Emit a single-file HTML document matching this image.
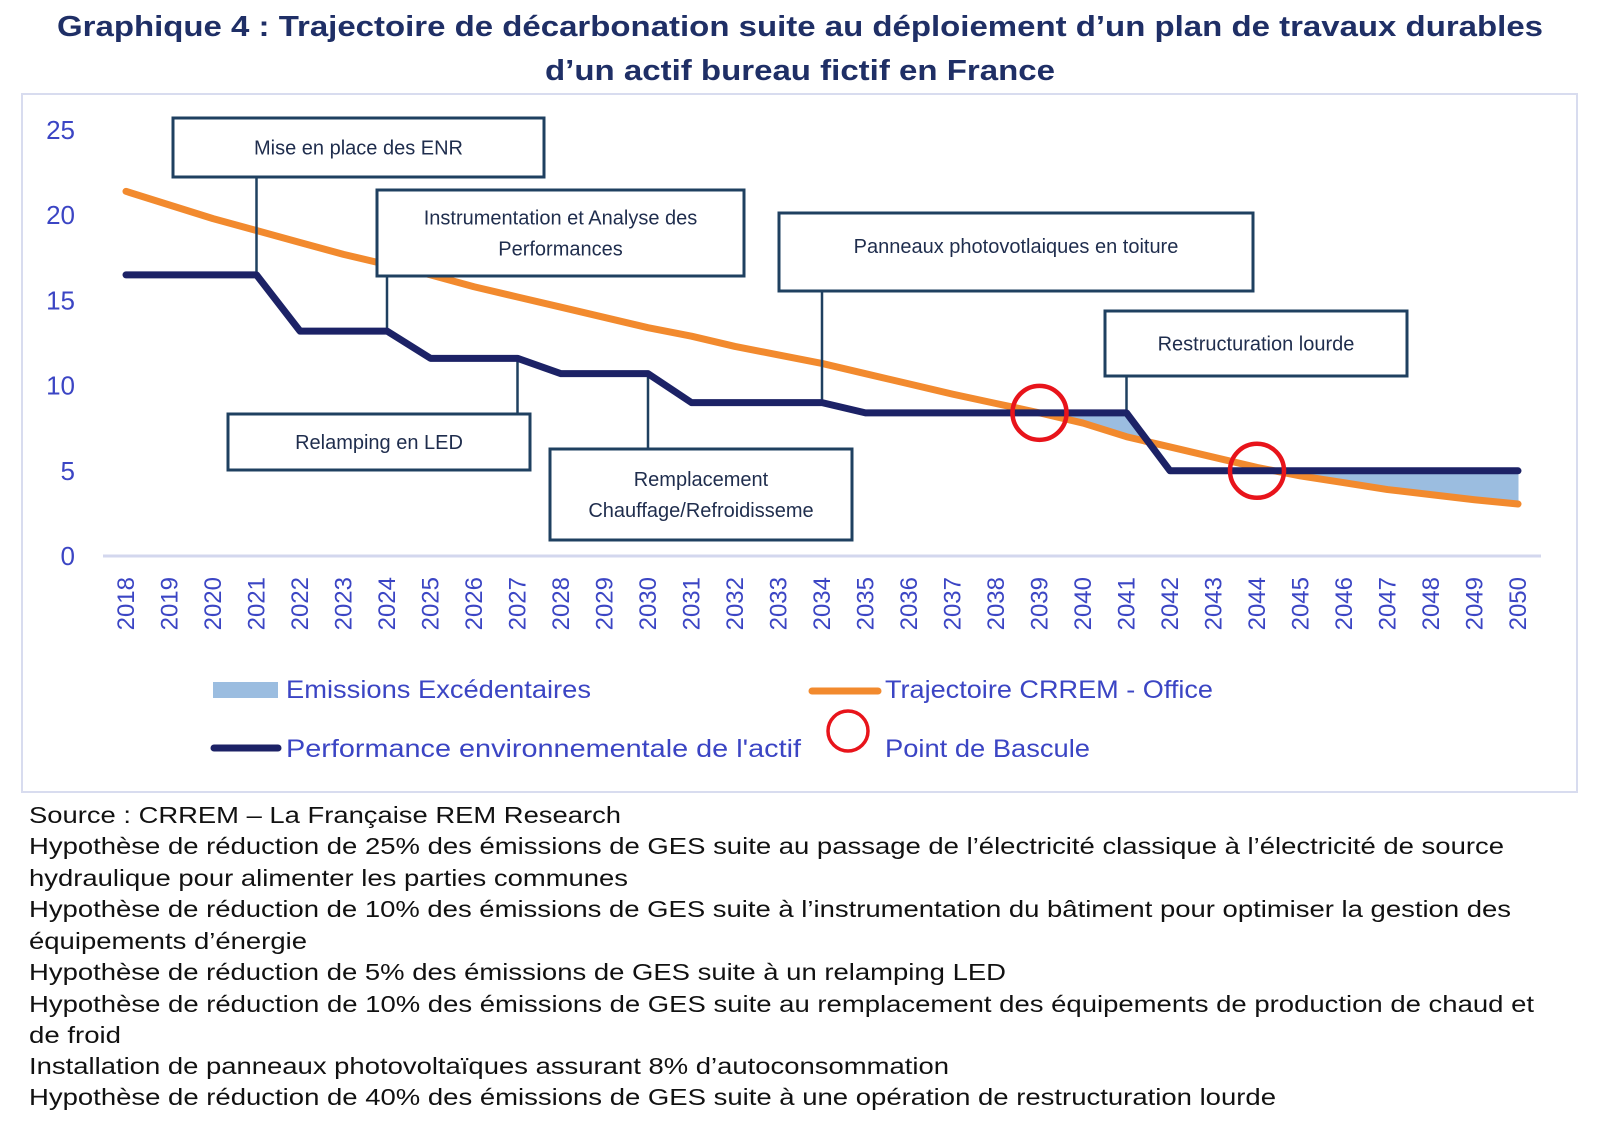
<!DOCTYPE html>
<html><head><meta charset="utf-8"><style>
html,body{margin:0;padding:0;background:#fff;}
svg{display:block;}
</style></head><body>
<svg id="chart" width="1600" height="1126" viewBox="0 0 1600 1126" xmlns="http://www.w3.org/2000/svg" font-family="'Liberation Sans', sans-serif">
<g fill="#1f2f66" font-weight="bold" font-size="29" text-anchor="middle">
<text x="800" y="36" textLength="1486" lengthAdjust="spacingAndGlyphs">Graphique 4 : Trajectoire de décarbonation suite au déploiement d’un plan de travaux durables</text>
<text x="800" y="80" textLength="510" lengthAdjust="spacingAndGlyphs">d’un actif bureau fictif en France</text>
</g>
<rect x="22" y="94" width="1555" height="698" fill="#fff" stroke="#d8dcef" stroke-width="2"/>
<g id="plot"></g>
<g font-size="25" fill="#3b45c4">
<rect x="213" y="682" width="65" height="16" fill="#9bbde0"/>
<text x="286" y="698" textLength="305" lengthAdjust="spacingAndGlyphs">Emissions Excédentaires</text>
<line x1="812" y1="691" x2="878" y2="691" stroke="#f28a2e" stroke-width="7" stroke-linecap="round"/>
<text x="885" y="698" textLength="328" lengthAdjust="spacingAndGlyphs">Trajectoire CRREM - Office</text>
<line x1="214" y1="748" x2="278" y2="748" stroke="#1c2266" stroke-width="7" stroke-linecap="round"/>
<text x="286" y="757" textLength="515" lengthAdjust="spacingAndGlyphs">Performance environnementale de l'actif</text>
<ellipse cx="848" cy="731" rx="20" ry="20" fill="none" stroke="#e8141b" stroke-width="3.5"/>
<text x="885" y="757" textLength="205" lengthAdjust="spacingAndGlyphs">Point de Bascule</text>
</g>
<g font-size="23" fill="#111">
<text x="29" y="823" textLength="592" lengthAdjust="spacingAndGlyphs">Source : CRREM – La Française REM Research</text>
<text x="29" y="854" textLength="1475" lengthAdjust="spacingAndGlyphs">Hypothèse de réduction de 25% des émissions de GES suite au passage de l’électricité classique à l’électricité de source</text>
<text x="29" y="886" textLength="599" lengthAdjust="spacingAndGlyphs">hydraulique pour alimenter les parties communes</text>
<text x="29" y="917" textLength="1482" lengthAdjust="spacingAndGlyphs">Hypothèse de réduction de 10% des émissions de GES suite à l’instrumentation du bâtiment pour optimiser la gestion des</text>
<text x="29" y="949" textLength="278" lengthAdjust="spacingAndGlyphs">équipements d’énergie</text>
<text x="29" y="980" textLength="977" lengthAdjust="spacingAndGlyphs">Hypothèse de réduction de 5% des émissions de GES suite à un relamping LED</text>
<text x="29" y="1012" textLength="1505" lengthAdjust="spacingAndGlyphs">Hypothèse de réduction de 10% des émissions de GES suite au remplacement des équipements de production de chaud et</text>
<text x="29" y="1043" textLength="92" lengthAdjust="spacingAndGlyphs">de froid</text>
<text x="29" y="1074" textLength="920" lengthAdjust="spacingAndGlyphs">Installation de panneaux photovoltaïques assurant 8% d’autoconsommation</text>
<text x="29" y="1105" textLength="1247" lengthAdjust="spacingAndGlyphs">Hypothèse de réduction de 40% des émissions de GES suite à une opération de restructuration lourde</text>
</g>
</svg>
<script>
const years = [2018,2019,2020,2021,2022,2023,2024,2025,2026,2027,2028,2029,2030,2031,2032,2033,2034,2035,2036,2037,2038,2039,2040,2041,2042,2043,2044,2045,2046,2047,2048,2049,2050];
const crremValues = [21.4,20.6,19.8,19.1,18.4,17.7,17.1,16.5,15.8,15.2,14.6,14.0,13.4,12.9,12.3,11.8,11.3,10.7,10.1,9.5,8.95,8.4,7.8,7.0,6.4,5.8,5.2,4.7,4.3,3.9,3.6,3.3,3.05];
const performanceValues = [16.5,16.5,16.5,16.5,13.2,13.2,13.2,11.6,11.6,11.6,10.7,10.7,10.7,9.0,9.0,9.0,9.0,8.4,8.4,8.4,8.4,8.4,8.4,8.4,5.0,5.0,5.0,5.0,5.0,5.0,5.0,5.0,5.0];
const yTicks = [0,5,10,15,20,25];
const tippingYears = [2039,2044];
const tippingValues = [8.4,5.0];
const annotationLabels = [["Mise en place des ENR"],["Instrumentation et Analyse des","Performances"],["Relamping en LED"],["Remplacement","Chauffage/Refroidisseme"],["Panneaux photovotlaiques en toiture"],["Restructuration lourde"]];
const annotationYears = [2021,2024,2027,2030,2034,2041];

const NS="http://www.w3.org/2000/svg";
const plot=document.getElementById('plot');
const X0=126, X1=1518, Y0=556, YPX=17.04;
const x=y=>X0+(y-years[0])*(X1-X0)/(years[years.length-1]-years[0]);
const yv=v=>Y0-v*YPX;
function mk(tag,attrs,parent){const e=document.createElementNS(NS,tag);for(const k in attrs)e.setAttribute(k,attrs[k]);(parent||plot).appendChild(e);return e;}

yTicks.forEach(t=>{
  const e=mk('text',{x:75,y:yv(t)+9,'text-anchor':'end','font-size':26,fill:'#3b45c4'});
  
  
  e.textContent=t;
});
const ax=mk('line',{x1:103,y1:Y0,x2:1541,y2:Y0,stroke:'#d3d7ee','stroke-width':3});


years.forEach(yr=>{
  const e=mk('text',{x:0,y:0,'text-anchor':'end','font-size':24,fill:'#3b45c4',transform:`translate(${x(yr)+8},577) rotate(-90)`});
  
  
  e.textContent=yr;
});
(function(){
  let d='';
  for(let i=0;i<years.length-1;i++){
    const a0=performanceValues[i]-crremValues[i], a1=performanceValues[i+1]-crremValues[i+1];
    if(a0<=0&&a1<=0) continue;
    let ts=0,te=1;
    if(a0<0) ts=a0/(a0-a1);
    if(a1<0) te=a0/(a0-a1);
    const P=(t,arr)=>arr[i]+(arr[i+1]-arr[i])*t;
    const xs=t=>x(years[i])+t*(x(years[i+1])-x(years[i]));
    d+=`M${xs(ts)},${yv(P(ts,performanceValues))}L${xs(te)},${yv(P(te,performanceValues))}L${xs(te)},${yv(P(te,crremValues))}L${xs(ts)},${yv(P(ts,crremValues))}Z`;
  }
  const e=mk('path',{d:d,fill:'#9bbde0',stroke:'#9bbde0','stroke-width':1});
  
  
})();
const cr=mk('polyline',{points:years.map((yr,i)=>x(yr)+','+yv(crremValues[i])).join(' '),fill:'none',stroke:'#f28a2e','stroke-width':7,'stroke-linecap':'round','stroke-linejoin':'round'});


const boxes=[[173,118,371,59],[377,190,367,86],[228,414,302,56],[550,449,302,91],[779,213,474,78],[1105,311,302,65]];
annotationLabels.forEach((lab,i)=>{
  const b=boxes[i], yr=annotationYears[i], cx=x(yr), py=yv(performanceValues[years.indexOf(yr)]);
  const above=b[1]+b[3]<py;
  const ln=mk('line',{x1:cx,y1:above?b[1]+b[3]:b[1],x2:cx,y2:py,stroke:'#1f4060','stroke-width':2.5});
  
  
  const r=mk('rect',{x:b[0],y:b[1],width:b[2],height:b[3],fill:'#fff',stroke:'#1f4060','stroke-width':3});
  
  
  const yc=i===4?b[1]+33:b[1]+b[3]/2;
  lab.forEach((t,j)=>{
    const e=mk('text',{x:b[0]+b[2]/2,y:yc+7+(j-(lab.length-1)/2)*31,'text-anchor':'middle','font-size':20,fill:'#1f2d4d'});
    
    
    e.textContent=t;
  });
});
const pf=mk('polyline',{points:years.map((yr,i)=>x(yr)+','+yv(performanceValues[i])).join(' '),fill:'none',stroke:'#1c2266','stroke-width':7,'stroke-linecap':'round','stroke-linejoin':'round'});


tippingYears.forEach((yr,i)=>{
  const c=mk('circle',{cx:x(yr),cy:yv(tippingValues[i]),r:27,fill:'none',stroke:'#e8141b','stroke-width':4.5});
  
  
});
</script>
</body></html>
